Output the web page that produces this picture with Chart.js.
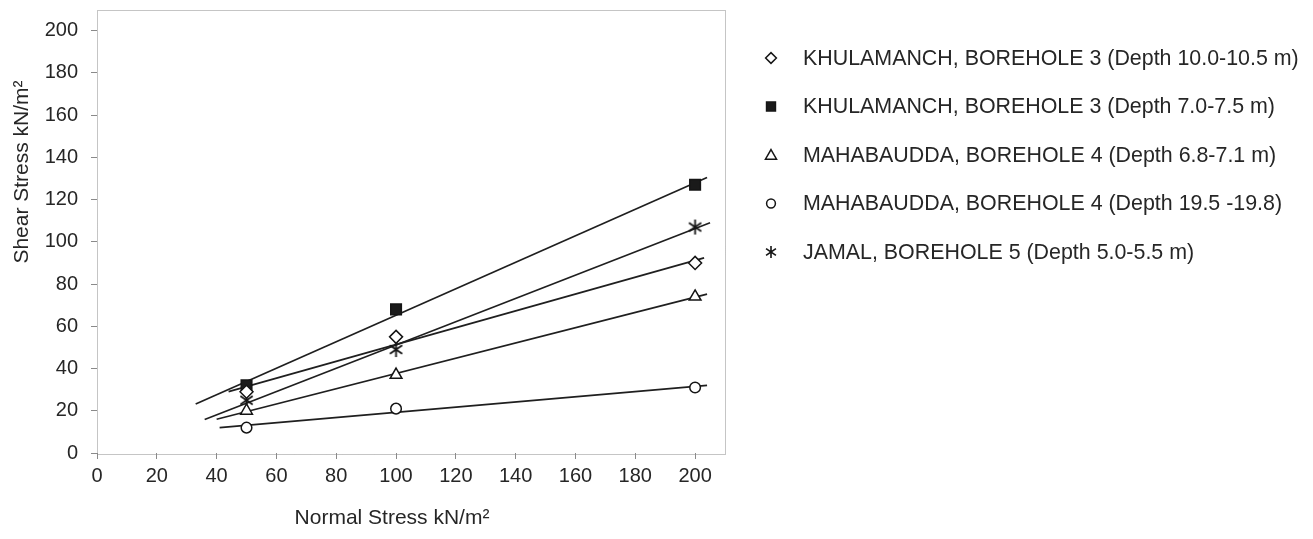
<!DOCTYPE html>
<html>
<head>
<meta charset="utf-8">
<script src="https://cdn.jsdelivr.net/npm/chart.js@4.4.1/dist/chart.umd.min.js"></script>
<style>
  html, body { margin: 0; padding: 0; background: #fff; }
  #wrap { width: 1313px; height: 539px; position: relative; }
</style>
</head>
<body>
<div id="wrap"><canvas id="c" width="1313" height="539"></canvas></div>
<script>
// Direct shear test results: shear stress at each normal stress (kN/m²)
const normalStress = [50, 100, 200];

const khulamanchBH3Deep    = [29, 55, 90];   // Depth 10.0-10.5 m
const khulamanchBH3Shallow = [32, 68, 127];  // Depth 7.0-7.5 m
const mahabauddaBH4Shallow = [20, 37, 74];   // Depth 6.8-7.1 m
const mahabauddaBH4Deep    = [12, 21, 31];   // Depth 19.5-19.8 m
const jamalBH5             = [25, 49, 107];  // Depth 5.0-5.5 m

const seriesLabels = [
  'KHULAMANCH, BOREHOLE 3 (Depth 10.0-10.5 m)',
  'KHULAMANCH, BOREHOLE 3 (Depth 7.0-7.5 m)',
  'MAHABAUDDA, BOREHOLE 4 (Depth 6.8-7.1 m)',
  'MAHABAUDDA, BOREHOLE 4 (Depth 19.5 -19.8)',
  'JAMAL, BOREHOLE 5 (Depth 5.0-5.5 m)'
];

// Extent of each fitted line along the normal-stress axis
const trendFrom = [44, 33, 40, 41, 36];
const trendTo   = [203, 204, 204, 204, 205];

// Axis range and tick values (same on both axes)
const axisMax = 210;
const tickValues = [0, 20, 40, 60, 80, 100, 120, 140, 160, 180, 200];

const FONT = "'Liberation Sans', Arial, Helvetica, sans-serif";
const INK = '#262626';

// Asterisk marker (vertical stroke with two diagonals)
function makeAsterisk(size, lw) {
  const cv = document.createElement('canvas');
  cv.width = size; cv.height = size;
  const g = cv.getContext('2d');
  const c = size / 2, r = size / 2 - 1;
  g.strokeStyle = '#151515';
  g.lineWidth = lw;
  g.beginPath();
  g.moveTo(c, c - r); g.lineTo(c, c + r);
  const a = Math.PI / 5.2;
  g.moveTo(c - r * Math.cos(a), c - r * Math.sin(a)); g.lineTo(c + r * Math.cos(a), c + r * Math.sin(a));
  g.moveTo(c + r * Math.cos(a), c - r * Math.sin(a)); g.lineTo(c - r * Math.cos(a), c + r * Math.sin(a));
  g.stroke();
  return cv;
}
const asterisk = makeAsterisk(17, 1.8);
const asteriskSmall = makeAsterisk(14, 1.6);

const seriesValues = [khulamanchBH3Deep, khulamanchBH3Shallow, mahabauddaBH4Shallow, mahabauddaBH4Deep, jamalBH5];
const markerStyles = [
  { pointStyle: 'rectRot',  radius: 6.5, fill: '#ffffff', legend: 'rectRot',     legendRadius: 5.4 },
  { pointStyle: 'rect',     radius: 7.5, fill: '#1a1a1a', legend: 'rect',        legendRadius: 6.3 },
  { pointStyle: 'triangle', radius: 6.8, fill: '#ffffff', legend: 'triangle',    legendRadius: 6.4 },
  { pointStyle: 'circle',   radius: 5.3, fill: '#ffffff', legend: 'circle',      legendRadius: 4.4 },
  { pointStyle: asterisk,   radius: 8,   fill: '#ffffff', legend: asteriskSmall, legendRadius: 7 }
];

// Least-squares straight line through a series
function fitLine(xs, ys) {
  const n = xs.length;
  const mx = xs.reduce((a, b) => a + b, 0) / n;
  const my = ys.reduce((a, b) => a + b, 0) / n;
  let sxy = 0, sxx = 0;
  for (let i = 0; i < n; i++) { sxy += (xs[i] - mx) * (ys[i] - my); sxx += (xs[i] - mx) ** 2; }
  const slope = sxy / sxx;
  return { slope, intercept: my - slope * mx };
}

const datasets = [];
seriesValues.forEach((vals, i) => {
  const m = markerStyles[i];
  datasets.push({
    type: 'scatter',
    label: seriesLabels[i],
    data: normalStress.map((x, k) => ({ x, y: vals[k] })),
    pointStyle: m.pointStyle,
    pointRadius: m.radius,
    pointHoverRadius: m.radius,
    pointBackgroundColor: m.fill,
    pointBorderColor: '#151515',
    pointBorderWidth: 1.5,
    showLine: false,
    order: 0
  });
});
seriesValues.forEach((vals, i) => {
  const f = fitLine(normalStress, vals);
  datasets.push({
    type: 'line',
    label: 'trend ' + i,
    data: [trendFrom[i], trendTo[i]].map(x => ({ x, y: f.intercept + f.slope * x })),
    borderColor: '#1f1f1f',
    borderWidth: 1.7,
    pointRadius: 0,
    fill: false,
    order: 1
  });
});

// Plot-area frame, axis titles and legend
const decorations = {
  id: 'decorations',
  afterDraw(chart) {
    const ctx = chart.ctx;
    const a = chart.chartArea;
    ctx.save();
    ctx.strokeStyle = '#8a8a8a';
    ctx.lineWidth = 1;
    ctx.setLineDash([1, 1]);
    ctx.strokeRect(Math.round(a.left) + 0.5, Math.round(a.top) + 0.5,
                   Math.round(a.right - a.left), Math.round(a.bottom - a.top));
    ctx.setLineDash([]);

    ctx.fillStyle = INK;
    ctx.font = '21px ' + FONT;
    ctx.textAlign = 'center';
    ctx.textBaseline = 'middle';
    ctx.fillText('Normal Stress kN/m²', 392, 518);

    ctx.save();
    ctx.translate(22, 172);
    ctx.rotate(-Math.PI / 2);
    ctx.fillText('Shear Stress kN/m²', 0, 0);
    ctx.restore();

    // Legend
    const lx = 771, tx = 803, ly0 = 58, dy = 48.5;
    seriesLabels.forEach((label, i) => {
      const y = ly0 + i * dy;
      const m = markerStyles[i];
      ctx.fillStyle = m.fill;
      ctx.strokeStyle = '#151515';
      ctx.lineWidth = 1.5;
      Chart.helpers.drawPoint(ctx, {
        pointStyle: m.legend,
        radius: m.legendRadius,
        rotation: 0,
        borderWidth: 1.5
      }, lx, y + (m.legend === 'triangle' ? 1 : 0));
      ctx.fillStyle = INK;
      ctx.font = '21.4px ' + FONT;
      ctx.textAlign = 'left';
      ctx.textBaseline = 'middle';
      ctx.fillText(label, tx, y + 1);
    });
    ctx.restore();
  }
};

function useTickValues(scale) {
  scale.ticks = tickValues.map(v => ({ value: v }));
}

new Chart(document.getElementById('c'), {
  data: { datasets },
  options: {
    responsive: false,
    devicePixelRatio: 1,
    animation: false,
    layout: { padding: { left: 0, top: 7, right: 588, bottom: 0 } },
    plugins: { legend: { display: false }, tooltip: { enabled: false } },
    scales: {
      x: {
        type: 'linear',
        min: 0, max: axisMax,
        afterBuildTicks: useTickValues,
        afterFit(scale) { scale.height = 86; scale.paddingLeft = 0; scale.paddingRight = 0; },
        ticks: { color: INK, font: { family: FONT, size: 20 }, padding: 5, maxRotation: 0, autoSkip: false },
        grid: { drawOnChartArea: false, drawTicks: true, tickLength: 6, color: '#8a8a8a' },
        border: { display: false }
      },
      y: {
        type: 'linear',
        min: 0, max: axisMax,
        afterBuildTicks: useTickValues,
        afterFit(scale) { scale.width = 97; scale.paddingTop = 0; scale.paddingBottom = 0; },
        ticks: { color: INK, font: { family: FONT, size: 20 }, padding: 13, autoSkip: false },
        grid: { drawOnChartArea: false, drawTicks: true, tickLength: 6, color: '#8a8a8a' },
        border: { display: false }
      }
    }
  },
  plugins: [decorations]
});
</script>
</body>
</html>
